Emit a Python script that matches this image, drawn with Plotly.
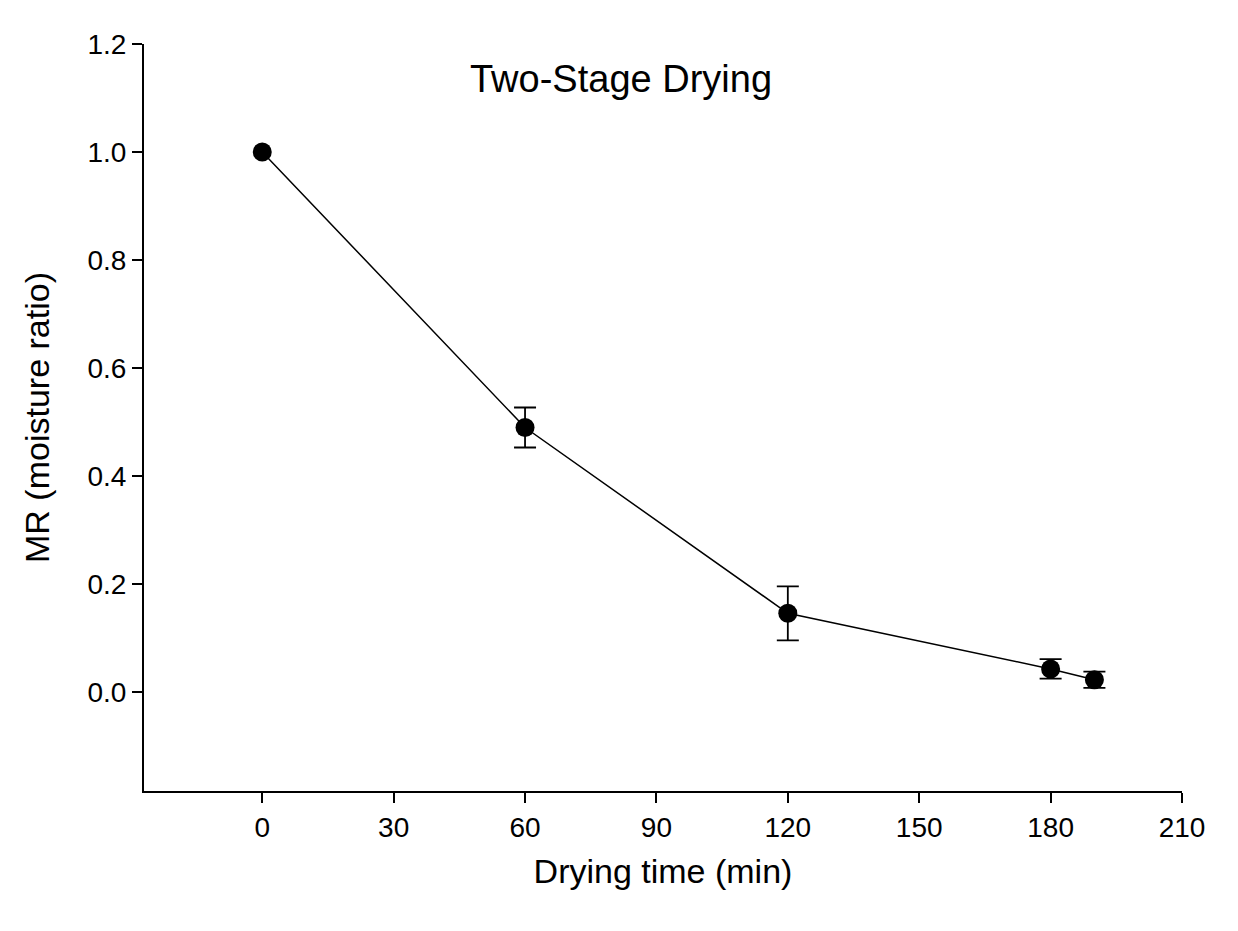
import plotly.graph_objects as go

time_min = [0, 60, 120, 180, 190]
mr = [1.0, 0.49, 0.146, 0.043, 0.023]
mr_err = [0.0, 0.037, 0.05, 0.018, 0.015]

x_ticks = [0, 30, 60, 90, 120, 150, 180, 210]
y_ticks = [0.0, 0.2, 0.4, 0.6, 0.8, 1.0, 1.2]

# only points that actually have a spread get an error bar
with_err = [i for i, e in enumerate(mr_err) if e > 0]

fig = go.Figure()

fig.add_trace(go.Scatter(
    x=[time_min[i] for i in with_err],
    y=[mr[i] for i in with_err],
    mode='markers',
    marker=dict(color='black', size=1, opacity=0),
    error_y=dict(type='data', array=[mr_err[i] for i in with_err], visible=True,
                 color='black', thickness=1.8, width=11),
    showlegend=False,
    hoverinfo='skip'
))

fig.add_trace(go.Scatter(
    x=time_min,
    y=mr,
    mode='lines+markers',
    line=dict(color='black', width=1.5),
    marker=dict(color='black', size=19),
    showlegend=False
))

# title sits inside the plot area, like the original
fig.add_annotation(
    x=82, y=1.135, text='Two-Stage Drying', showarrow=False,
    font=dict(size=38, color='black')
)

fig.update_layout(
    width=1222,
    height=915,
    margin=dict(l=136, r=48, t=36, b=132),
    paper_bgcolor='white',
    plot_bgcolor='white',
    font=dict(family='Liberation Sans, Arial, sans-serif', color='black'),
    xaxis=dict(
        range=[-27, 210],
        tickmode='array',
        tickvals=x_ticks,
        ticks='outside', ticklen=10, tickwidth=1.8, tickcolor='black',
        showline=True, linecolor='black', linewidth=2,
        showgrid=False, zeroline=False,
        tickfont=dict(size=28),
        title=dict(text='Drying time (min)', font=dict(size=34), standoff=18)
    ),
    yaxis=dict(
        range=[-0.183, 1.2],
        tickmode='array',
        tickvals=y_ticks,
        tickformat='.1f',
        ticks='outside', ticklen=10, tickwidth=1.8, tickcolor='black',
        showline=True, linecolor='black', linewidth=2,
        showgrid=False, zeroline=False,
        tickfont=dict(size=28),
        title=dict(text='MR (moisture ratio)', font=dict(size=34), standoff=28)
    )
)

fig.write_html("out.html")
